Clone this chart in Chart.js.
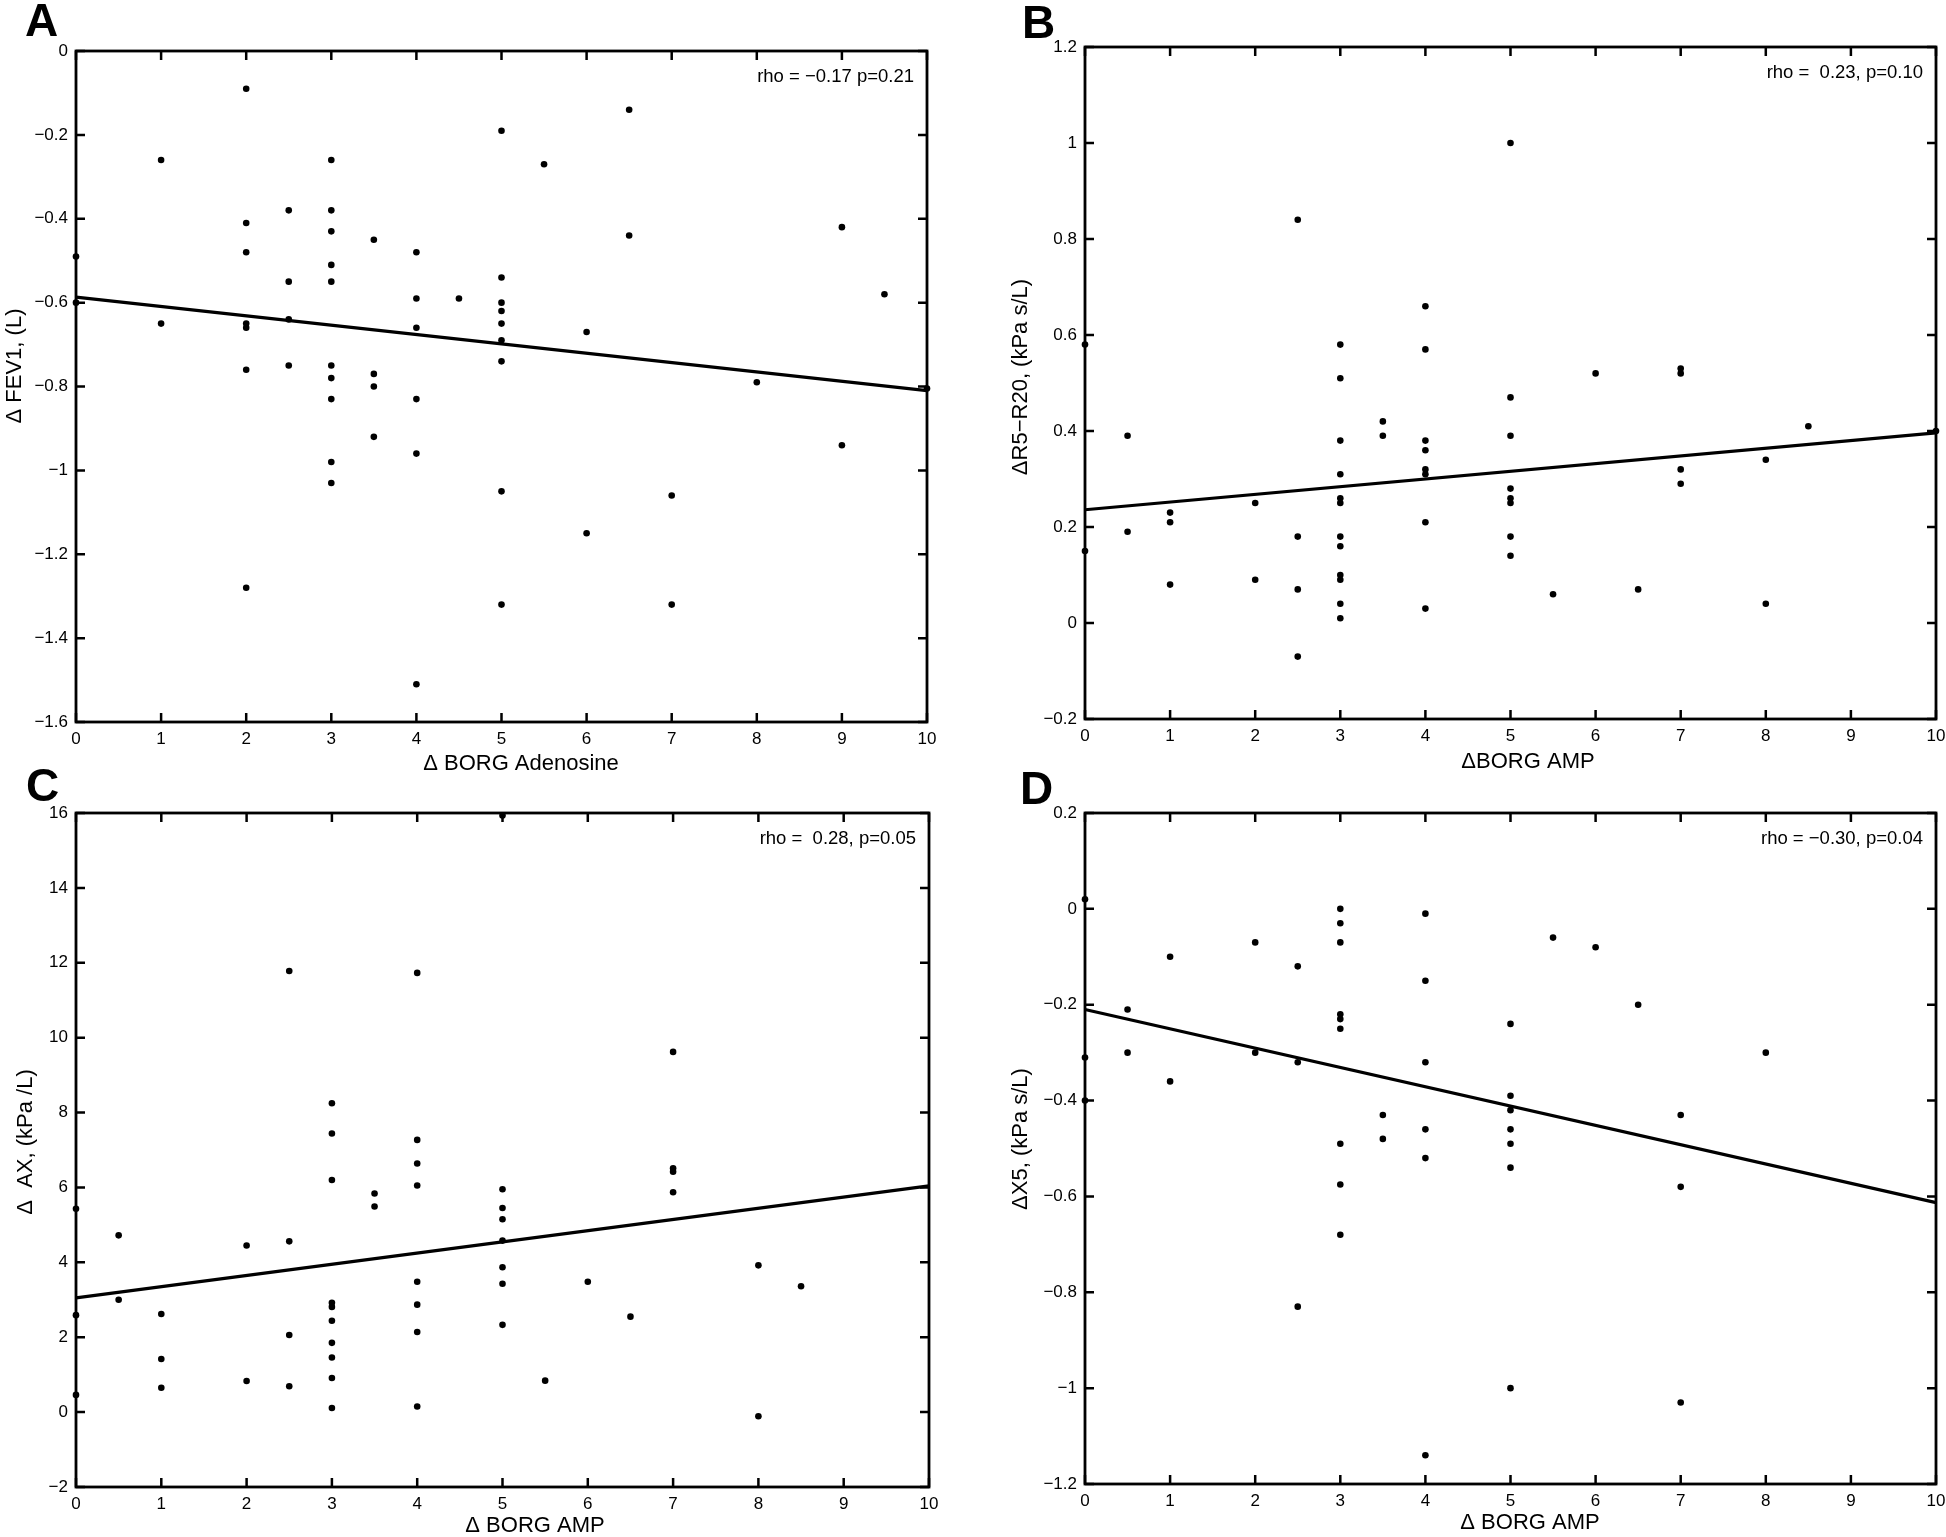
<!DOCTYPE html>
<html lang="en">
<head>
  <meta charset="UTF-8" />
  <title>BORG scatter panels</title>
  <script src="https://cdn.jsdelivr.net/npm/chart.js"></script>
  <style>
    body { margin: 0; background: #fff; }
    #page { position: relative; width: 1946px; height: 1537px; }
    canvas { position: absolute; left: 0; top: 0; }
  </style>
</head>
<body>
  <div id="page">
    <canvas id="chartA" width="1946" height="1537"></canvas>
    <canvas id="chartB" width="1946" height="1537"></canvas>
    <canvas id="chartC" width="1946" height="1537"></canvas>
    <canvas id="chartD" width="1946" height="1537"></canvas>
  </div>

  <script>
    // ---- data ----
    const xTicks = [0, 1, 2, 3, 4, 5, 6, 7, 8, 9, 10]

    // A: delta FEV1 vs delta BORG adenosine
    const xA = [0, 0, 1, 1, 2, 2, 2, 2, 2, 2, 2, 2.5, 2.5, 2.5, 2.5,
      3, 3, 3, 3, 3, 3, 3, 3, 3, 3, 3.5, 3.5, 3.5, 3.5, 4, 4, 4, 4, 4, 4, 4.5,
      5, 5, 5, 5, 5, 5, 5, 5, 5, 5.5, 6, 6, 6.5, 6.5, 7, 7, 8, 9, 9, 9.5, 10]
    const yA = [-0.49, -0.60, -0.26, -0.65, -0.09, -0.41, -0.48, -0.65, -0.66, -0.76, -1.28, -0.38, -0.55, -0.64, -0.75,
      -0.26, -0.38, -0.43, -0.51, -0.55, -0.75, -0.78, -0.83, -0.98, -1.03, -0.45, -0.77, -0.80, -0.92,
      -0.48, -0.59, -0.66, -0.83, -0.96, -1.51, -0.59,
      -0.19, -0.54, -0.60, -0.62, -0.65, -0.69, -0.74, -1.05, -1.32, -0.27, -0.67, -1.15, -0.14, -0.44,
      -1.06, -1.32, -0.79, -0.42, -0.94, -0.58, -0.805]
    const fitA = [-0.587, -0.81]
    const yTicksA = [-1.6, -1.4, -1.2, -1, -0.8, -0.6, -0.4, -0.2, 0]

    // B: delta R5-R20 vs delta BORG AMP
    const xB = [0, 0, 0.5, 0.5, 1, 1, 1, 2, 2, 2.5, 2.5, 2.5, 2.5,
      3, 3, 3, 3, 3, 3, 3, 3, 3, 3, 3, 3, 3.5, 3.5, 4, 4, 4, 4, 4, 4, 4, 4,
      5, 5, 5, 5, 5, 5, 5, 5, 5.5, 6, 6.5, 7, 7, 7, 7, 8, 8, 8.5, 10]
    const yB = [0.58, 0.15, 0.39, 0.19, 0.23, 0.21, 0.08, 0.25, 0.09, 0.84, 0.18, 0.07, -0.07,
      0.58, 0.51, 0.38, 0.31, 0.26, 0.25, 0.18, 0.16, 0.10, 0.09, 0.04, 0.01, 0.42, 0.39,
      0.66, 0.57, 0.38, 0.36, 0.32, 0.31, 0.21, 0.03,
      1.00, 0.47, 0.39, 0.28, 0.26, 0.25, 0.18, 0.14, 0.06, 0.52, 0.07, 0.53, 0.52, 0.32, 0.29,
      0.34, 0.04, 0.41, 0.40]
    const fitB = [0.236, 0.396]
    const yTicksB = [-0.2, 0, 0.2, 0.4, 0.6, 0.8, 1, 1.2]

    // C: delta AX vs delta BORG AMP
    const xC = [0, 0, 0, 0.5, 0.5, 1, 1, 1, 2, 2, 2.5, 2.5, 2.5, 2.5,
      3, 3, 3, 3, 3, 3, 3, 3, 3, 3, 3.5, 3.5, 4, 4, 4, 4, 4, 4, 4, 4,
      5, 5, 5, 5, 5, 5, 5, 5, 5.5, 6, 6.5, 7, 7, 7, 7, 8, 8, 8.5]
    const yC = [5.43, 2.59, 0.46, 4.72, 3.0, 2.62, 1.42, 0.65, 4.45, 0.83, 11.78, 4.56, 2.06, 0.69,
      8.25, 7.44, 6.2, 2.92, 2.81, 2.44, 1.85, 1.46, 0.91, 0.11, 5.84, 5.49,
      11.73, 7.27, 6.64, 6.05, 3.48, 2.87, 2.14, 0.15,
      15.93, 5.95, 5.45, 5.15, 4.58, 3.87, 3.43, 2.33, 0.84, 3.48, 2.55, 9.62, 6.51, 6.42, 5.87,
      3.92, -0.11, 3.36]
    const fitC = [3.05, 6.04]
    const yTicksC = [-2, 0, 2, 4, 6, 8, 10, 12, 14, 16]

    // D: delta X5 vs delta BORG AMP
    const xD = [0, 0, 0, 0.5, 0.5, 1, 1, 2, 2, 2.5, 2.5, 2.5,
      3, 3, 3, 3, 3, 3, 3, 3, 3, 3.5, 3.5, 4, 4, 4, 4, 4, 4,
      5, 5, 5, 5, 5, 5, 5, 5.5, 6, 6.5, 7, 7, 7, 8]
    const yD = [0.02, -0.31, -0.40, -0.21, -0.30, -0.10, -0.36, -0.07, -0.30, -0.12, -0.32, -0.83,
      0.0, -0.03, -0.07, -0.22, -0.23, -0.25, -0.49, -0.575, -0.68, -0.43, -0.48,
      -0.01, -0.15, -0.32, -0.46, -0.52, -1.14,
      -0.24, -0.39, -0.42, -0.46, -0.49, -0.54, -1.0, -0.06, -0.08, -0.20, -0.43, -0.58, -1.03, -0.30]
    const fitD = [-0.21, -0.613]
    const yTicksD = [-1.2, -1, -0.8, -0.6, -0.4, -0.2, 0, 0.2]

    // ---- layout (page pixels) ----
    const PAGE_W = 1946, PAGE_H = 1537
    const Y_AXIS_W = 60, X_AXIS_H = 40
    const FONT = "'Liberation Sans', Arial, sans-serif"

    const panels = [
      { id: 'chartA', letter: 'A', xs: xA, ys: yA, fit: fitA, yTicks: yTicksA,
        area: { left: 76, right: 927, top: 51, bottom: 722 },
        letterPos: [25, 36], xTitle: 'Δ BORG Adenosine', xTitlePos: [521, 764],
        yTitle: 'Δ FEV1, (L)', yTitlePos: [15, 366], note: 'rho = −0.17 p=0.21' },
      { id: 'chartB', letter: 'B', xs: xB, ys: yB, fit: fitB, yTicks: yTicksB,
        area: { left: 1085, right: 1936, top: 47, bottom: 719 },
        letterPos: [1022, 38], xTitle: 'ΔBORG AMP', xTitlePos: [1528, 762],
        yTitle: 'ΔR5−R20, (kPa s/L)', yTitlePos: [1021, 377], note: 'rho =  0.23, p=0.10' },
      { id: 'chartC', letter: 'C', xs: xC, ys: yC, fit: fitC, yTicks: yTicksC,
        area: { left: 76, right: 929, top: 813, bottom: 1487 },
        letterPos: [26, 801], xTitle: 'Δ BORG AMP', xTitlePos: [535, 1526],
        yTitle: 'Δ  AX, (kPa /L)', yTitlePos: [26, 1142], note: 'rho =  0.28, p=0.05' },
      { id: 'chartD', letter: 'D', xs: xD, ys: yD, fit: fitD, yTicks: yTicksD,
        area: { left: 1085, right: 1936, top: 813, bottom: 1484 },
        letterPos: [1020, 804], xTitle: 'Δ BORG AMP', xTitlePos: [1530, 1523],
        yTitle: 'ΔX5, (kPa s/L)', yTitlePos: [1021, 1139], note: 'rho = −0.30, p=0.04' }
    ]

    const fmt = v => (v < 0 ? '\u2212' : '') + Math.abs(v)

    // box, inward ticks, panel letter, axis titles and rho note
    function drawDecor(chart, p) {
      const { ctx, chartArea: a, scales: { x, y } } = chart
      ctx.save()
      ctx.strokeStyle = '#000'
      ctx.lineWidth = 2.5
      ctx.beginPath()
      x.ticks.forEach(t => {
        const px = x.getPixelForValue(t.value)
        ctx.moveTo(px, a.bottom); ctx.lineTo(px, a.bottom - 9)
        ctx.moveTo(px, a.top); ctx.lineTo(px, a.top + 9)
      })
      y.ticks.forEach(t => {
        const py = y.getPixelForValue(t.value)
        ctx.moveTo(a.left, py); ctx.lineTo(a.left + 9, py)
        ctx.moveTo(a.right, py); ctx.lineTo(a.right - 9, py)
      })
      ctx.stroke()
      ctx.lineWidth = 2.8
      ctx.strokeRect(a.left, a.top, a.right - a.left, a.bottom - a.top)

      ctx.fillStyle = '#000'
      ctx.font = `bold 46px ${FONT}`
      ctx.textAlign = 'left'
      ctx.textBaseline = 'alphabetic'
      ctx.fillText(p.letter, p.letterPos[0], p.letterPos[1])

      ctx.font = `18.5px ${FONT}`
      ctx.textAlign = 'right'
      ctx.textBaseline = 'middle'
      ctx.fillText(p.note, a.right - 13, a.top + 26)

      ctx.font = `22px ${FONT}`
      ctx.textAlign = 'center'
      ctx.fillText(p.xTitle, p.xTitlePos[0], p.xTitlePos[1])
      ctx.translate(p.yTitlePos[0], p.yTitlePos[1])
      ctx.rotate(-Math.PI / 2)
      ctx.fillText(p.yTitle, 0, 0)
      ctx.restore()
    }

    function fixSize(prop, size) {
      return s => {
        s[prop] = size
        s.paddingLeft = 0; s.paddingRight = 0; s.paddingTop = 0; s.paddingBottom = 0
      }
    }

    panels.forEach(p => {
      const a = p.area
      new Chart(document.getElementById(p.id), {
        type: 'scatter',
        data: {
          datasets: [
            {
              data: p.xs.map((v, i) => ({ x: v, y: p.ys[i] })),
              pointRadius: 3.3,
              pointBorderWidth: 0,
              backgroundColor: '#000',
              clip: false
            },
            {
              data: [{ x: xTicks[0], y: p.fit[0] }, { x: xTicks[xTicks.length - 1], y: p.fit[1] }],
              showLine: true,
              borderColor: '#000',
              borderWidth: 3.2,
              pointRadius: 0,
              clip: false
            }
          ]
        },
        options: {
          responsive: false,
          animation: false,
          events: [],
          layout: {
            padding: {
              left: a.left - Y_AXIS_W,
              right: PAGE_W - a.right,
              top: a.top,
              bottom: PAGE_H - a.bottom - X_AXIS_H
            }
          },
          plugins: { legend: { display: false }, tooltip: { enabled: false } },
          scales: {
            x: {
              type: 'linear',
              min: xTicks[0],
              max: xTicks[xTicks.length - 1],
              afterBuildTicks: s => { s.ticks = xTicks.map(v => ({ value: v })) },
              afterFit: fixSize('height', X_AXIS_H),
              grid: { display: false, drawTicks: false },
              border: { display: false },
              ticks: { color: '#000', font: { family: FONT, size: 17 }, padding: 7, maxRotation: 0, callback: fmt }
            },
            y: {
              type: 'linear',
              min: p.yTicks[0],
              max: p.yTicks[p.yTicks.length - 1],
              afterBuildTicks: s => { s.ticks = p.yTicks.map(v => ({ value: v })) },
              afterFit: fixSize('width', Y_AXIS_W),
              grid: { display: false, drawTicks: false },
              border: { display: false },
              ticks: { color: '#000', font: { family: FONT, size: 17 }, padding: 8, callback: fmt }
            }
          }
        },
        plugins: [{ id: 'decor', afterDraw: chart => drawDecor(chart, p) }]
      })
    })
  </script>
</body>
</html>
